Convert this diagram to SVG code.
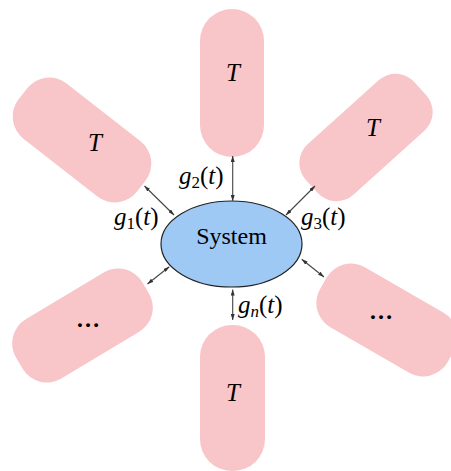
<svg xmlns="http://www.w3.org/2000/svg" width="451" height="471" viewBox="0 0 451 471">
<style>
.pill{fill:#f8c5c8;stroke:none}
.sys{fill:#9dc9f4;stroke:#222;stroke-width:1.2}
.conn{stroke:#444;stroke-width:1.1;fill:none;marker-start:url(#ah);marker-end:url(#ah)}
.lbl{font-family:"Liberation Serif","Times New Roman",serif;font-size:25px;fill:#000}
.it{font-style:italic}
.sub{font-size:17px}
.t{font-family:"Liberation Serif","Times New Roman",serif;font-size:25px;font-style:italic;fill:#000;text-anchor:middle}
.dots{font-family:"Liberation Serif","Times New Roman",serif;font-size:24px;font-weight:bold;fill:#000;text-anchor:middle}
.systxt{font-family:"Liberation Serif","Times New Roman",serif;font-size:24px;fill:#000;text-anchor:middle}
</style>
<defs>
<marker id="ah" markerUnits="userSpaceOnUse" markerWidth="6" markerHeight="4" refX="6" refY="2" orient="auto-start-reverse" viewBox="0 0 6 4">
<path d="M0,0 L6,2 L0,4 z" fill="#333"/>
</marker>
</defs>
<rect width="451" height="471" fill="#ffffff"/>
<g id="t-top"><rect class="pill" x="200" y="9" width="64" height="148" rx="32"/><text class="t" x="233" y="81">T</text></g>
<g id="t-upper-left"><rect class="pill" x="-75" y="-35" width="150" height="70" rx="28" transform="translate(82,140) rotate(38)"/><text class="t" x="95" y="151">T</text></g>
<g id="t-upper-right"><rect class="pill" x="-73" y="-34" width="146" height="68" rx="25" transform="translate(366,137.5) rotate(-42)"/><text class="t" x="373" y="136">T</text></g>
<g id="t-lower-left"><rect class="pill" x="-73.5" y="-34.5" width="147" height="69" rx="28" transform="translate(82.5,325.5) rotate(-31)"/><text class="dots" x="88" y="327">…</text></g>
<g id="t-lower-right"><rect class="pill" x="-73.5" y="-34.5" width="147" height="69" rx="28" transform="translate(387,320) rotate(30)"/><text class="dots" x="381" y="319">…</text></g>
<g id="t-bottom"><rect class="pill" x="200" y="325" width="65" height="146" rx="32"/><text class="t" x="233" y="401">T</text></g>
<g id="system"><ellipse class="sys" cx="231.5" cy="244" rx="70.5" ry="43"/><text class="systxt" x="231.5" y="244">System</text></g>
<g id="connectors">
<line class="conn" x1="144.5" y1="186" x2="174" y2="215"/>
<line class="conn" x1="232.7" y1="156" x2="232.7" y2="201"/>
<line class="conn" x1="315" y1="186" x2="286" y2="215"/>
<line class="conn" x1="169.3" y1="266.7" x2="147.5" y2="284"/>
<line class="conn" x1="301.7" y1="259.3" x2="324" y2="277"/>
<line class="conn" x1="232.7" y1="289.5" x2="232.7" y2="320"/>
</g>
<g id="labels">
<text class="lbl" x="114" y="225"><tspan class="it">g</tspan><tspan class="sub" dy="4">1</tspan><tspan dy="-4">(</tspan><tspan class="it">t</tspan>)</text>
<text class="lbl" x="179" y="184"><tspan class="it">g</tspan><tspan class="sub" dy="4">2</tspan><tspan dy="-4">(</tspan><tspan class="it">t</tspan>)</text>
<text class="lbl" x="301" y="225"><tspan class="it">g</tspan><tspan class="sub" dy="4">3</tspan><tspan dy="-4">(</tspan><tspan class="it">t</tspan>)</text>
<text class="lbl" x="238" y="313"><tspan class="it">g</tspan><tspan class="sub it" dy="4">n</tspan><tspan dy="-4">(</tspan><tspan class="it">t</tspan>)</text>
</g>
</svg>
